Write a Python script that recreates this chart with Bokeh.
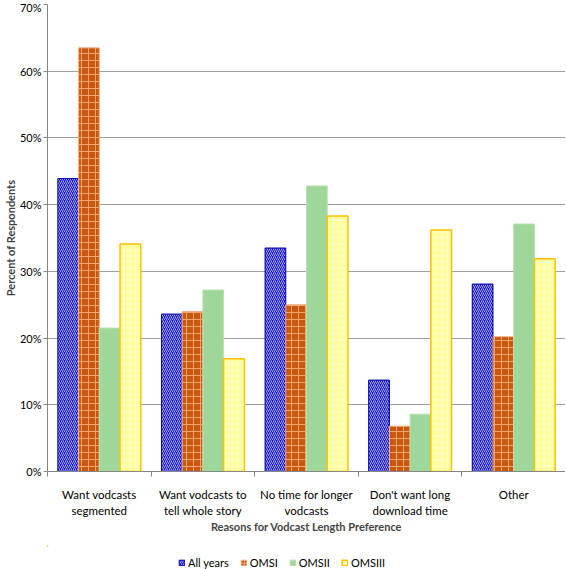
from bokeh.plotting import figure
from bokeh.layouts import column
from bokeh.models import (Range1d, FixedTicker, PrintfTickFormatter, Legend, LegendItem,
                          ColumnDataSource)
from bokeh.transform import dodge
from bokeh.embed import file_html
from bokeh.resources import INLINE

categories = ["Want vodcasts\nsegmented", "Want vodcasts to\ntell whole story",
              "No time for longer\nvodcasts", "Don't want long\ndownload time", "Other"]
series = ["All years", "OMSI", "OMSII", "OMSIII"]
all_years = [43.9, 23.6, 33.5, 13.7, 28.1]
omsi = [63.5, 24.0, 25.0, 6.8, 20.2]
omsii = [21.5, 27.2, 42.8, 8.6, 37.1]
omsiii = [34.1, 16.9, 38.3, 36.2, 31.9]
y_ticks = [0, 10, 20, 30, 40, 50, 60, 70]

FONT = "Lato"
centers = [i + 0.5 for i in range(len(categories))]
src = ColumnDataSource(dict(x=centers, a=all_years, b=omsi, c=omsii, d=omsiii))

p = figure(frame_width=518, frame_height=467,
           output_backend="svg", toolbar_location=None,
           x_range=Range1d(0, len(categories)), y_range=Range1d(0, 70),
           min_border_left=0, min_border_right=0, min_border_top=4, min_border_bottom=74)
p.outline_line_color = None
p.background_fill_color = "white"
p.border_fill_color = "white"

styles = [
    dict(fill_color="#1a1ac0", hatch_pattern="right_diagonal_line", hatch_color="#a0a0ff",
         hatch_scale=4, hatch_weight=1, line_color="#0000b0", line_width=1),
    dict(fill_color="#c8580f", hatch_pattern="cross", hatch_color="#f2a46a",
         hatch_scale=7, hatch_weight=1, line_color="#f4b183", line_width=1),
    dict(fill_color="#9fd699", line_color="#b8e2b2", line_width=1),
    dict(fill_color="#ffff99", hatch_pattern="cross", hatch_color="#ffffd0",
         hatch_scale=6, hatch_weight=1, line_color="#ffc000", line_width=1.5),
]
cols = ["a", "b", "c", "d"]
offsets = [-0.3, -0.1, 0.1, 0.3]
for col, off, st in zip(cols, offsets, styles):
    p.vbar(x=dodge("x", off, range=p.x_range), top=col, width=0.2, bottom=0,
           source=src, **st)

# grid
p.xgrid.visible = False
p.ygrid.ticker = FixedTicker(ticks=y_ticks)
p.ygrid.grid_line_color = "#a0a0a0"
p.ygrid.grid_line_width = 1

# y axis
ya = p.yaxis[0]
ya.ticker = FixedTicker(ticks=y_ticks)
ya.formatter = PrintfTickFormatter(format="%d%%")
ya.axis_label = "Percent of Respondents"
ya.axis_label_text_font = FONT
ya.axis_label_text_font_style = "bold"
ya.axis_label_text_font_size = "11px"
ya.axis_label_standoff = 0
ya.major_label_text_font = FONT
ya.major_label_text_font_size = "11px"
ya.major_label_text_color = "black"
ya.major_label_standoff = 2
ya.axis_line_color = "#868686"
ya.major_tick_line_color = "#868686"
ya.major_tick_out = 4
ya.major_tick_in = 0
ya.minor_tick_line_color = None

# x axis
xa = p.xaxis[0]
xa.ticker = FixedTicker(ticks=centers, minor_ticks=list(range(len(categories) + 1)))
xa.major_label_overrides = {c: lab for c, lab in zip(centers, categories)}
xa.major_label_text_font = FONT
xa.major_label_text_font_size = "11.5px"
xa.major_label_text_color = "black"
xa.major_label_text_line_height = 1.3
xa.major_label_standoff = 10
xa.major_tick_line_color = None
xa.minor_tick_line_color = "#868686"
xa.minor_tick_out = 5
xa.minor_tick_in = 0
xa.axis_line_color = "#868686"
xa.axis_label = "Reasons for Vodcast Length Preference"
xa.axis_label_text_font = FONT
xa.axis_label_text_font_style = "bold"
xa.axis_label_text_font_size = "11px"
xa.axis_label_standoff = 0

# legend in its own strip below the chart (bars there lie outside its visible range)
lg = figure(width=559, height=25, output_backend="svg", toolbar_location=None,
            x_range=Range1d(100, 101), y_range=Range1d(-2, -1),
            x_axis_location=None, y_axis_location=None,
            min_border=0, min_border_left=0, min_border_right=0,
            min_border_top=0, min_border_bottom=0)
lg.grid.visible = False
lg.outline_line_color = None
items = []
for name, col, st in zip(series, cols, styles):
    r = lg.vbar(x="x", top=col, width=0.2, bottom=0, source=src, **st)
    items.append(LegendItem(label=name, renderers=[r]))
legend = Legend(items=items, orientation="horizontal", location=(131, 1),
                label_text_font=FONT, label_text_font_size="11px",
                label_text_color="black",
                glyph_width=7, glyph_height=7, label_standoff=3, spacing=11,
                padding=0, margin=0, border_line_color=None,
                background_fill_alpha=0, label_height=12)
lg.add_layout(legend)

layout = column(p, lg, spacing=0)
open("out.html", "w").write(file_html(layout, INLINE))
